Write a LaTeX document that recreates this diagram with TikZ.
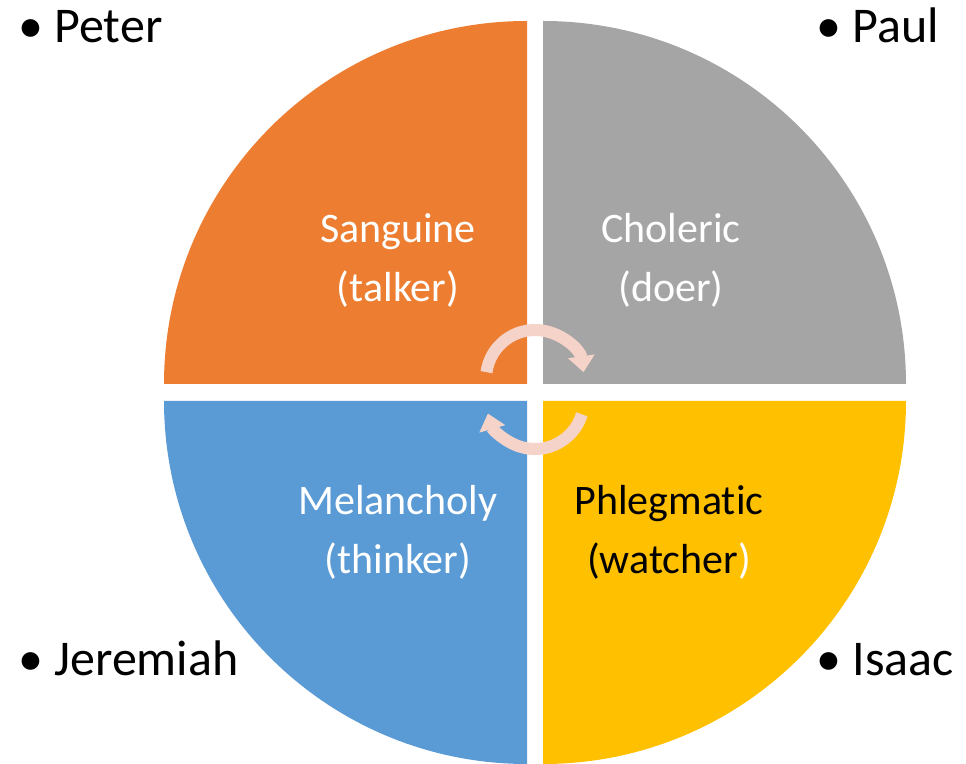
\documentclass[tikz,border=0pt]{standalone}
\usepackage{fontspec}
\setmainfont{Carlito}[Ligatures=NoCommon]
\usetikzlibrary{arrows.meta, positioning}
\definecolor{sang}   {HTML}{ED7D31}
\definecolor{chol}   {HTML}{A5A5A5}
\definecolor{mela}   {HTML}{5B9BD5}
\definecolor{phleg}  {HTML}{FFC000}
\definecolor{cycpink}{HTML}{F6D3C8}
\tikzset{
  lbl/.style    = {font=\fontsize{42}{59}\selectfont, align=center,
                   text=white, inner sep=0pt},
  person/.style = {font=\fontsize{50}{60}\selectfont, text=black,
                   inner sep=0pt, anchor=base west},
  cyc/.style    = {line width=12pt, draw=cycpink,
                   -{Triangle[width=26pt, length=16pt]}},
}

\begin{document}
\begin{tikzpicture}[x=1pt, y=1pt]
  \useasboundingbox (0,0) rectangle (966,763);

  % four quarters
  \fill[sang]  (527,379) -- ++(-363,0) arc[start angle=180, end angle=90,  radius=363] -- cycle;
  \fill[chol]  (543,379) -- ++(0,363)  arc[start angle=90,  end angle=0,   radius=363] -- cycle;
  \fill[mela]  (527,362) -- ++(-363,0) arc[start angle=180, end angle=270, radius=363] -- cycle;
  \fill[phleg] (543,362) -- ++(363,0)  arc[start angle=0,   end angle=-90, radius=363] -- cycle;

  % cycle arrows
  \coordinate (hubtop) at (535,384);
  \coordinate (hubbot) at (535,363);
  \draw[cyc] (hubtop) ++(172:49) arc[start angle=172, end angle=8, radius=49];
  \draw[cyc] (hubbot) ++(-17:49) arc[start angle=-17, end angle=-164, radius=49];

  % temperaments
  \node[lbl] (sanguine) at (398,503) {Sanguine\\(talker)};
  \node[lbl] (choleric) at (671,503) {Choleric\\(doer)};
  \node[lbl] (melan)    at (398,231) {Melancholy\\(thinker)};
  \node[lbl, text=black] (phlegm) at (669,231) {Phlegmatic\\(watcher\textcolor{white}{)}};

  % people
  \node[person] (peter)    at (18,720)  {• Peter};
  \node[person] (paul)     at (816,720) {• Paul};
  \node[person] (jeremiah) at (18,88)   {• Jeremiah};
  \node[person] (isaac)    at (816,88)  {• Isaac};

\end{tikzpicture}
\end{document}
